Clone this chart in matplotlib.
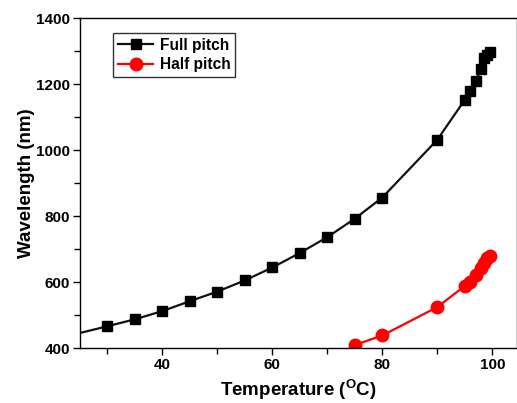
import matplotlib
matplotlib.use("Agg")
import matplotlib.pyplot as plt
from matplotlib.ticker import MultipleLocator

full_T = [20, 30, 35, 40, 45, 50, 55, 60, 65, 70, 75, 80, 90, 95, 96, 97, 98, 98.5, 99, 99.5]
full_wl = [425, 466, 487, 512, 542, 571, 605, 644, 688, 736, 792, 856, 1031, 1152, 1178, 1210, 1245, 1280, 1288, 1298]
half_T = [75, 80, 90, 95, 96, 97, 98, 98.5, 99, 99.5]
half_wl = [409, 438, 524, 588, 601, 621, 641, 657, 672, 680]

plt.rcParams['font.family'] = ['Liberation Sans', 'DejaVu Sans']
plt.rcParams['font.weight'] = 'bold'

fig = plt.figure(figsize=(5.17, 4.03), dpi=100)
ax = fig.add_axes([80/517, 55/403, 437/517, 330/403])

ax.plot(full_T, full_wl, color='#111111', lw=1.6, marker='s', ms=7.5,
        mfc='black', mec='black', label='Full pitch')
ax.plot(half_T, half_wl, color='#ff0000', lw=1.6, marker='o', ms=9,
        mfc='#ff0000', mec='#ff0000', label='Half pitch')

ax.set_xlim(25, 104.5)
ax.set_ylim(400, 1400)
ax.xaxis.set_major_locator(MultipleLocator(20))
ax.xaxis.set_minor_locator(MultipleLocator(10))
ax.yaxis.set_major_locator(MultipleLocator(200))
ax.yaxis.set_minor_locator(MultipleLocator(100))
ax.tick_params(which='major', direction='out', length=5, width=1, labelsize=11, pad=2)
ax.tick_params(which='minor', direction='out', length=4, width=1)
for lab in ax.get_xticklabels() + ax.get_yticklabels():
    lab.set_fontweight('bold')
for s in ax.spines.values():
    s.set_linewidth(1)

ax.set_xlabel('Temperature ($\\mathregular{^{O}}$C)', fontsize=13.5, fontweight='bold', labelpad=4.5)
ax.set_ylabel('Wavelength (nm)', fontsize=13.5, fontweight='bold', labelpad=1)

leg = ax.legend(loc='upper left', bbox_to_anchor=(33/437, 1 - 15/330), numpoints=1,
                fontsize=11.2, frameon=True, fancybox=False, edgecolor='black',
                handlelength=2.3, handletextpad=0.4, borderpad=0.3, labelspacing=0.3,
                borderaxespad=0)
leg.get_frame().set_linewidth(1)
for t in leg.get_texts():
    t.set_fontweight('bold')

fig.savefig('out.png', dpi=100)
